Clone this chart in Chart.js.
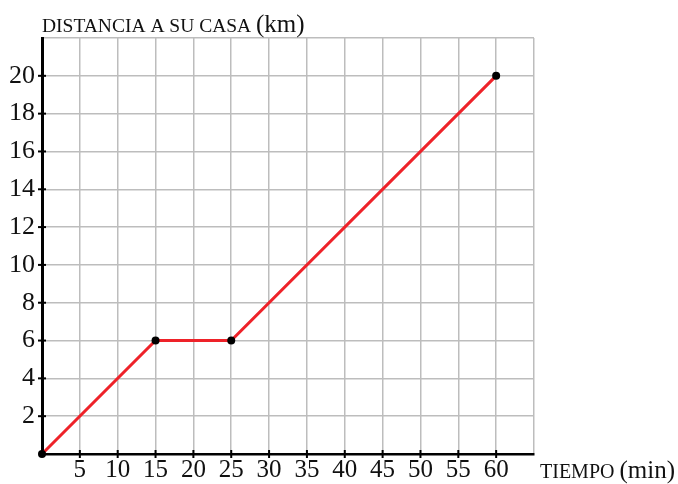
<!DOCTYPE html>
<html>
<head>
<meta charset="utf-8">
<script src="https://cdn.jsdelivr.net/npm/chart.js@4/dist/chart.umd.min.js"></script>
<style>
  html,body{margin:0;padding:0;background:#fff;}
  #wrap{width:678px;height:484px;position:relative;}
</style>
</head>
<body>
<div id="wrap"><canvas id="c" width="678" height="484"></canvas></div>
<script>
// trip: minutes vs km from home
const TIME_MIN = [0, 15, 25, 60];
const DIST_KM = [0, 6, 6, 20];
const X_MAX = 65, X_STEP = 5;
const Y_MAX = 22, Y_STEP = 2;
const Y_TITLE = ['DISTANCIA A SU CASA', '(km)'];
const X_TITLE = ['TIEMPO', '(min)'];

const SERIF = '"Liberation Serif", "DejaVu Serif", serif';

// axis titles (two sizes) + ticks crossing the axes
const extras = {
  id: 'extras',
  afterDraw(chart){
    const {ctx, chartArea: a, scales: {x, y}} = chart;
    ctx.save();
    ctx.strokeStyle = '#000';
    ctx.lineWidth = 2;
    x.ticks.forEach(t => {
      if(t.value === 0 || t.value === X_MAX) return;
      const px = x.getPixelForValue(t.value);
      ctx.beginPath(); ctx.moveTo(px, a.bottom - 4); ctx.lineTo(px, a.bottom + 4); ctx.stroke();
    });
    y.ticks.forEach(t => {
      if(t.value === 0 || t.value === Y_MAX) return;
      const py = y.getPixelForValue(t.value);
      ctx.beginPath(); ctx.moveTo(a.left - 4, py); ctx.lineTo(a.left + 4, py); ctx.stroke();
    });

    ctx.fillStyle = '#111';
    ctx.textBaseline = 'alphabetic';
    ctx.textAlign = 'left';
    // y title
    let px = 42, base = 32;
    ctx.font = '19.5px ' + SERIF;
    ctx.fillText(Y_TITLE[0], px, base);
    px += ctx.measureText(Y_TITLE[0] + ' ').width;
    ctx.font = '25px ' + SERIF;
    ctx.fillText(Y_TITLE[1], px, base);
    // x title
    px = 540; base = 478;
    ctx.font = '20px ' + SERIF;
    ctx.fillText(X_TITLE[0], px, base);
    px += ctx.measureText(X_TITLE[0] + ' ').width;
    ctx.font = '25px ' + SERIF;
    ctx.fillText(X_TITLE[1], px, base);
    ctx.restore();
  }
};

new Chart(document.getElementById('c'), {
  type: 'line',
  data: {
    datasets: [{
      data: TIME_MIN.map((t, i) => ({x: t, y: DIST_KM[i]})),
      borderColor: '#ee2229',
      borderWidth: 3,
      pointRadius: 4,
      pointBackgroundColor: '#000',
      pointBorderColor: '#000',
      pointBorderWidth: 0,
      tension: 0,
      clip: false
    }]
  },
  options: {
    responsive: false,
    animation: false,
    layout: { padding: { top: 38, right: 144, left: 0, bottom: 0 } },
    plugins: { legend: { display: false }, tooltip: { enabled: false } },
    scales: {
      x: {
        type: 'linear', min: 0, max: X_MAX,
        afterFit: s => { s.height = 30; },
        ticks: {
          stepSize: X_STEP, padding: 1, color: '#111',
          font: { family: SERIF, size: 25 },
          maxRotation: 0, autoSkip: false,
          callback: v => (v === 0 || v === X_MAX) ? '' : v
        },
        grid: { color: '#bdbdbd', lineWidth: 1.5, drawTicks: false },
        border: { color: '#000', width: 2.5 }
      },
      y: {
        type: 'linear', min: 0, max: Y_MAX,
        afterFit: s => { s.width = 42; },
        ticks: {
          stepSize: Y_STEP, padding: 7, color: '#111',
          font: { family: SERIF, size: 26 },
          callback: v => (v === 0 || v === Y_MAX) ? '' : v
        },
        grid: { color: '#bdbdbd', lineWidth: 1.5, drawTicks: false },
        border: { color: '#000', width: 3 }
      }
    }
  },
  plugins: [extras]
});
</script>
</body>
</html>
